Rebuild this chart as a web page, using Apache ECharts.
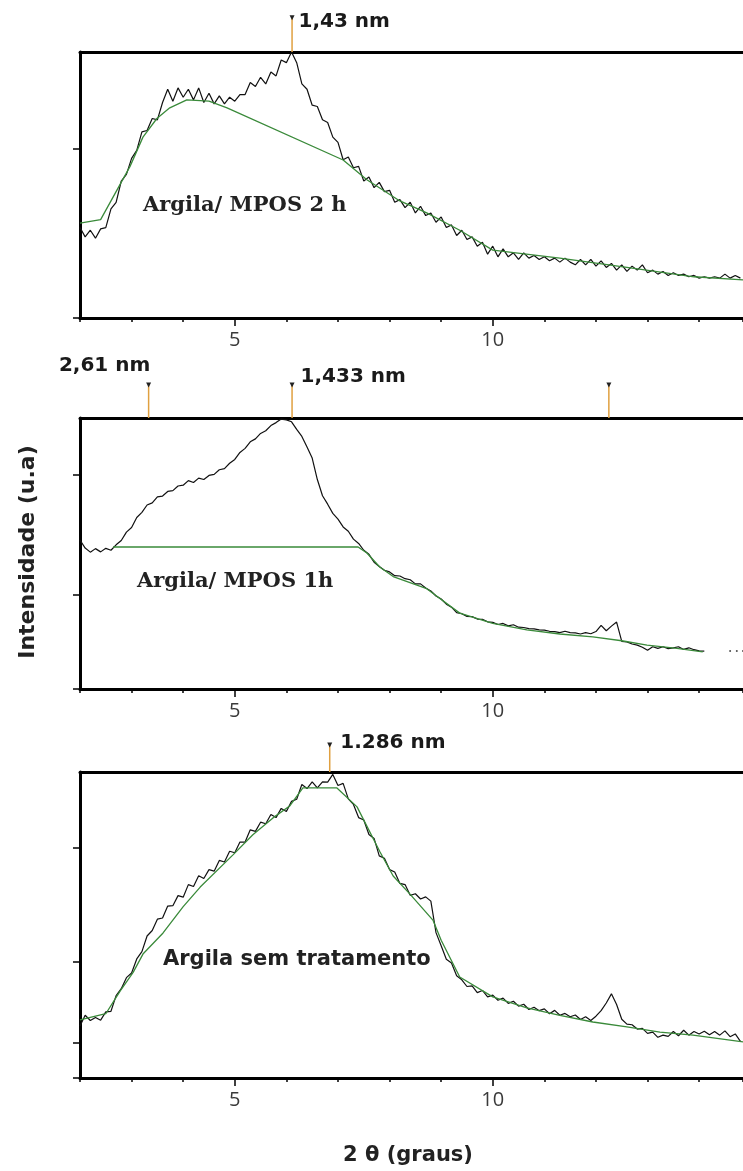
<!DOCTYPE html>
<html><head><meta charset="utf-8">
<script src="https://cdn.jsdelivr.net/npm/echarts@6/dist/echarts.min.js"></script>
<style>html,body{margin:0;padding:0;background:#fff}#c{width:743px;height:1171px}</style>
</head><body><div id="c"></div>
<script>
// ---- scan definition (2θ, degrees) ----
const scanStart = 2.0, scanStep = 0.1;
const xMin = 2, xMax = 14.85;
const xTickLabels = [5, 10];

// ---- Argila / MPOS 2 h (normalised intensity, 0-100) ----
const mpos2h = [34,30.5,33,30,33.5,34,41,43.5,51.5,54,60,63,70,70.5,75,74.5,81,86,81.5,86.5,
83,86,82,86.5,81,84.5,80.5,83.5,80.5,83,81.5,84,84,88.5,87,90.5,88,92.5,91,97,
96,100,96,88,86,80,79.5,74.5,73.5,68,66,59.5,60.5,56.5,57,51.5,53,49,51,47.5,
48,43.5,44.5,41.5,43.5,39.5,42,38.5,39.5,36,38,34,35,31,33,29.5,30.5,27,28.5,24,
27,23,26,23,24.5,22,24.5,22.5,23.5,22,23,21.5,22.5,21,22.5,21,20,22,20,22,
19.5,21.5,19,20.5,18,20,17.5,19.5,18,20,17,18,16.5,17.5,16,17,16,16.5,15.5,16,
15,15.5,15,15.5,15,16.5,15,16,15];
const mpos2hBase = [[2.0,35.7],[2.4,37],[2.97,57],[3.22,68],[3.49,75],[3.74,79],[4.07,82],[4.5,81.5],
[4.85,79],[7.1,59.4],[7.56,52],[8.2,44],[8.72,39.5],[9.36,33],[10.0,25.5],[11.3,22.5],[12.6,19],[13.9,15.5],[14.85,14.3]];
const mpos2hTicks = [0, 63.5];
const mpos2hPeaks = [{x:6.11, label:'1,43 nm'}];

// ---- Argila / MPOS 1h ----
const mpos1h = [55,52,50.5,51.8,50.6,51.9,51.2,53.2,54.8,57.9,59.6,63.3,65.2,67.9,68.7,70.9,71.2,72.9,73.2,74.9,
75.2,76.9,76.2,77.8,77.3,78.8,79.2,80.9,81.3,83.3,84.7,87.3,88.8,91.2,92.3,94.3,95.3,97.2,98.3,99.6,
99.3,98.6,95.8,93.2,89.3,85.2,77.3,71.3,68.2,64.8,62.7,59.8,58.2,55.3,53.7,51.2,49.7,46.8,45.2,43.8,
43.2,41.8,41.7,40.7,40.3,38.8,38.8,37.3,36.2,34.3,33.2,31.3,30.2,28.2,27.8,26.8,26.7,25.8,25.7,24.8,
24.6,23.8,24.2,23.3,23.7,22.8,22.7,22.3,22.2,21.8,21.7,21.3,21.2,20.8,21.3,20.8,20.7,20.3,20.8,20.4,
21.2,23.5,21.5,23.2,24.7,17.6,17.4,16.6,16.2,15.4,14.3,15.6,15,15.6,14.9,15.2,15.6,14.6,15.2,14.5,
14.1,14];
const mpos1hTail = [[14.6,14],[14.73,14],[14.85,14]];
const mpos1hBase = [[2.64,52.4],[7.39,52.4],[7.56,50.2],[7.81,45],[8.07,41.5],[8.72,37],[9.36,28],[10.0,24.2],
[10.66,21.8],[11.3,20.3],[11.94,19.2],[12.5,17.8],[12.99,16.2],[13.57,15],[14.07,13.7]];
const mpos1hTicks = [0, 34.7, 79];
const mpos1hPeaks = [{x:3.33, label:'2,61 nm'}, {x:6.11, label:'1,433 nm'}, {x:12.25, label:''}];

// ---- Argila sem tratamento ----
const semTrat = [17,20.5,18.8,19.8,18.9,21.6,21.8,26.9,29.2,32.8,34.3,38.9,41.3,46.4,48.2,51.9,52.3,56.2,56.3,59.6,
59.1,63.2,62.6,66.1,65.2,68.1,67.6,71.1,70.6,74.1,73.6,77.1,77.1,81.1,80.6,83.6,83.1,86.1,85.1,88.1,
87.1,90.4,91.1,95.9,94.6,96.8,94.8,96.8,96.7,99.2,95.6,96.3,91.2,89.4,85.1,84.3,79.6,78.3,72.6,71.8,
68.1,67.3,63.6,63.2,59.7,60.2,58.5,59.2,57.8,47.5,43.2,38.8,37.6,33.4,32.1,29.9,30.1,27.9,28.6,26.5,
27.1,25.4,26.1,24.4,25.1,23.5,24.1,22.4,23.1,22,22.6,21,22.1,20.5,21.1,20,20.6,19.1,20,18.8,
20.2,22,24.5,27.5,24,19.2,17.6,17.4,16,16.2,14.6,15,13.3,14,13.6,15.2,13.8,15.6,14,15.2,
14.4,15.3,14.1,15.2,14,15.4,13.5,14.4,12];
const semTratBase = [[2.0,19],[2.5,21],[2.78,28.5],[3.03,34.5],[3.22,40.5],[3.61,47.4],[4.0,56],[4.33,62.4],
[4.97,73],[5.35,79.5],[5.74,85],[6.07,89],[6.32,94.8],[6.98,94.8],[7.37,88.6],[7.81,74],[8.07,66],[8.4,60],
[8.84,51.6],[9.0,45],[9.36,33],[10.0,26.5],[10.66,22.9],[11.3,20.5],[11.94,18.3],[12.6,16.7],[13.24,15],[13.88,14],[14.85,11.8]];
const semTratTicks = [0, 11.4, 37.9, 75.2];
const semTratPeaks = [{x:6.84, label:'1.286 nm'}];

// ---- layout ----
const panels = [
  {data: mpos2h, base: mpos2hBase, ticks: mpos2hTicks, peaks: mpos2hPeaks, top: 52, height: 266, mTop: 14, mHeight: 38, mVal: 0.9,
   labelOffsets: [[0,4]], name: 'Argila/ MPOS 2 h', nx: 143, ny: 206, nfont: 'bold 21px "DejaVu Serif"'},
  {data: mpos1h, base: mpos1hBase, ticks: mpos1hTicks, peaks: mpos1hPeaks, top: 418, height: 271, mTop: 380, mHeight: 38, mVal: 0.87,
   labelOffsets: [['top',[-44,-3]],[2,-8],[0,0]], name: 'Argila/ MPOS 1h', nx: 137, ny: 582, nfont: 'bold 21px "DejaVu Serif"', tail: mpos1hTail},
  {data: semTrat, base: semTratBase, ticks: semTratTicks, peaks: semTratPeaks, top: 772, height: 306, mTop: 740, mHeight: 32, mVal: 0.84,
   labelOffsets: [[4,-2]], name: 'Argila sem tratamento', nx: 163, ny: 960, nfont: 'bold 21px "DejaVu Sans"'}
];

const toXY = arr => arr.map((v, i) => [+(scanStart + i * scanStep).toFixed(2), v]);

const grid = [], xAxis = [], yAxis = [], series = [], graphic = [];
const blk = '#000';
panels.forEach((p, k) => {
  const g0 = grid.length;
  grid.push({left: 80, width: 663, top: p.top, height: p.height});
  grid.push({left: 80, width: 663, top: p.top, height: p.height});
  grid.push({left: 80, width: 663, top: p.mTop, height: p.mHeight});
  const x0 = xAxis.length;
  xAxis.push({type:'value', gridIndex:g0, position:'bottom', min:xMin, max:xMax, interval:1,
    axisLine:{show:true, onZero:false, lineStyle:{color:blk, width:3}},
    axisTick:{show:true, length:4, lineStyle:{color:blk, width:1.5}},
    axisLabel:{show:false}, splitLine:{show:false}});
  xAxis.push({type:'value', gridIndex:g0, position:'top', min:xMin, max:xMax, interval:1,
    axisLine:{show:true, onZero:false, lineStyle:{color:blk, width:3}},
    axisTick:{show:false}, axisLabel:{show:false}, splitLine:{show:false}});
  xAxis.push({type:'value', gridIndex:g0+1, position:'bottom', min:xMin, max:xMax,
    axisLine:{show:false, onZero:false},
    axisTick:{show:true, length:8, customValues:xTickLabels, lineStyle:{color:blk, width:1.5}},
    axisLabel:{show:true, customValues:xTickLabels, margin:12, fontSize:20, fontFamily:'Open Sans', color:'#3a3a3a'},
    splitLine:{show:false}});
  xAxis.push({type:'value', gridIndex:g0+2, min:xMin, max:xMax, show:false});
  const y0 = yAxis.length;
  yAxis.push({type:'value', gridIndex:g0, min:0, max:100,
    axisLine:{show:true, onZero:false, lineStyle:{color:blk, width:3}},
    axisTick:{show:true, length:7, customValues:p.ticks, lineStyle:{color:blk, width:1.5}},
    axisLabel:{show:false}, splitLine:{show:false}});
  yAxis.push({type:'value', gridIndex:g0+1, min:0, max:100, show:false});
  yAxis.push({type:'value', gridIndex:g0+2, min:0, max:1, show:false});

  series.push({type:'line', xAxisIndex:x0, yAxisIndex:y0, data: toXY(p.data), showSymbol:false, symbol:'none',
    lineStyle:{color:'#111', width:1.2}, animation:false, z:3});
  series.push({type:'line', xAxisIndex:x0, yAxisIndex:y0, data: p.base, showSymbol:false, symbol:'none',
    lineStyle:{color:'#3a8a3a', width:1.3}, animation:false, z:4});
  if (p.tail) {
    series.push({type:'scatter', xAxisIndex:x0, yAxisIndex:y0, data:p.tail, symbolSize:2,
      itemStyle:{color:'#222'}, animation:false});
  }
  p.peaks.forEach((pk, j) => {
    const lo = p.labelOffsets[j] || [0,0];
    let pos = 'right', off = lo;
    if (typeof lo[0] === 'string') { pos = lo[0]; off = lo[1]; }
    series.push({type:'line', xAxisIndex:x0+3, yAxisIndex:y0+2, animation:false,
      lineStyle:{color:'#e0a040', width:1.5},
      data:[{value:[pk.x, 0], symbol:'none'},
            {value:[pk.x, p.mVal], symbol:'triangle', symbolRotate:180, symbolSize:[5,5],
             itemStyle:{color:'#222'},
             label:{show: !!pk.label, formatter: pk.label, position: pos, offset: off, distance: 4,
               fontFamily:'DejaVu Sans', fontWeight:'bold', fontSize:20, color:'#1a1a1a'}}],
      showSymbol:true});
  });
  graphic.push({type:'text', x:p.nx, y:p.ny, style:{text:p.name, font:p.nfont, fill:'#222', align:'left', verticalAlign:'middle'}});
});

graphic.push({type:'text', x:408, y:1156, style:{text:'2 θ (graus)', font:'bold 21px "DejaVu Sans"', fill:'#222', align:'center', verticalAlign:'middle'}});
graphic.push({type:'text', x:28, y:552, rotation:Math.PI/2, style:{text:'Intensidade (u.a)', font:'bold 22px "DejaVu Sans"', fill:'#222', align:'center', verticalAlign:'middle'}});

const chart = echarts.init(document.getElementById('c'), null, {renderer:'canvas'});
chart.setOption({backgroundColor:'#fff', animation:false, grid, xAxis, yAxis, series, graphic});
</script></body></html>
